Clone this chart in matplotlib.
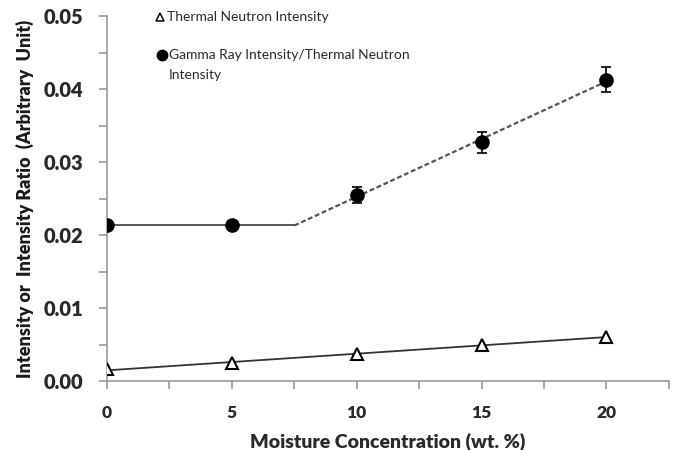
import matplotlib.pyplot as plt
import numpy as np
from matplotlib.ticker import MultipleLocator, FormatStrFormatter

# moisture concentration (wt. %)
moisture = [0, 5, 10, 15, 20]

# thermal neutron intensity
thermal = [0.0016, 0.0025, 0.0037, 0.0049, 0.0061]

# gamma ray intensity / thermal neutron intensity
ratio = [0.0214, 0.0214, 0.0255, 0.0327, 0.0413]
ratio_err = [0.0006, 0.0006, 0.0011, 0.0014, 0.0017]

# the ratio stays flat up to this moisture level, then rises linearly
break_point = 7.5

plt.rcParams["font.family"] = ["Lato", "DejaVu Sans"]

fig = plt.figure(figsize=(6.77, 4.5), dpi=100)
ax = fig.add_axes([0.158, 0.153, 0.830, 0.811])

axis_grey = "#9a9a9a"
text_col = "#2a2a2a"

# thermal neutron trend line
coef = np.polyfit(moisture, thermal, 1)
xs = np.array([moisture[0], moisture[-1]])
ax.plot(xs, np.polyval(coef, xs), color="#333333", lw=1.3, zorder=2)

# ratio: flat part and linear rise
flat_level = np.mean(ratio[:2])
ax.plot([moisture[0], break_point], [flat_level, flat_level], color="#555555", lw=1.4, zorder=2)
rise = np.polyfit(moisture[2:], ratio[2:], 1)
xr = np.array([break_point, moisture[-1]])
ax.plot(xr, np.polyval(rise, xr), color="#555555", lw=1.6, linestyle=(0, (2.2, 1.2)), zorder=2)

ax.errorbar(moisture, ratio, yerr=ratio_err, fmt="o", color="black", ms=9.5,
            ecolor="black", elinewidth=1.2, capsize=3.5, capthick=1.2, zorder=3)
ax.plot(moisture, thermal, linestyle="none", marker="^", ms=8.5, mfc="white",
        mec="black", mew=1.5, zorder=3)

ax.set_xlim(0, 22.5)
ax.set_ylim(0, 0.05)
ax.xaxis.set_major_locator(MultipleLocator(5))
ax.xaxis.set_minor_locator(MultipleLocator(2.5))
ax.yaxis.set_major_locator(MultipleLocator(0.01))
ax.yaxis.set_minor_locator(MultipleLocator(0.005))
ax.yaxis.set_major_formatter(FormatStrFormatter("%.2f"))

for side in ["top", "right"]:
    ax.spines[side].set_visible(False)
for side in ["left", "bottom"]:
    ax.spines[side].set_color(axis_grey)
    ax.spines[side].set_linewidth(1.2)

ax.tick_params(axis="both", which="both", direction="out", color=axis_grey, width=1.2, length=6)
ax.tick_params(axis="y", labelsize=14.5, pad=11)
ax.tick_params(axis="x", labelsize=12.5, pad=11)
for lbl in ax.get_xticklabels() + ax.get_yticklabels():
    lbl.set_fontweight("heavy")
    lbl.set_color(text_col)

ax.set_xlabel("Moisture Concentration (wt. %)", fontsize=14, fontweight="heavy",
              color=text_col, labelpad=9)
ax.set_ylabel("Intensity or  Intensity Ratio  (Arbitrary  Unit)", fontsize=13,
              fontweight="heavy", color="#1a1a1a", labelpad=7)

# legend drawn by hand, marker next to the first line of each entry
ax.plot([0.095], [0.997], transform=ax.transAxes, marker="^", ms=6, mfc="white",
        mec="black", mew=1.1, linestyle="none", clip_on=False)
ax.text(0.106, 0.997, "Thermal Neutron Intensity", transform=ax.transAxes,
        fontsize=10, va="center", ha="left", color=text_col)
ax.plot([0.098], [0.893], transform=ax.transAxes, marker="o", ms=7.5, color="black",
        linestyle="none", clip_on=False)
ax.text(0.110, 0.893, "Gamma Ray Intensity/Thermal Neutron", transform=ax.transAxes,
        fontsize=10, va="center", ha="left", color=text_col)
ax.text(0.110, 0.838, "Intensity", transform=ax.transAxes,
        fontsize=10, va="center", ha="left", color=text_col)

fig.savefig("out.png", dpi=100)
